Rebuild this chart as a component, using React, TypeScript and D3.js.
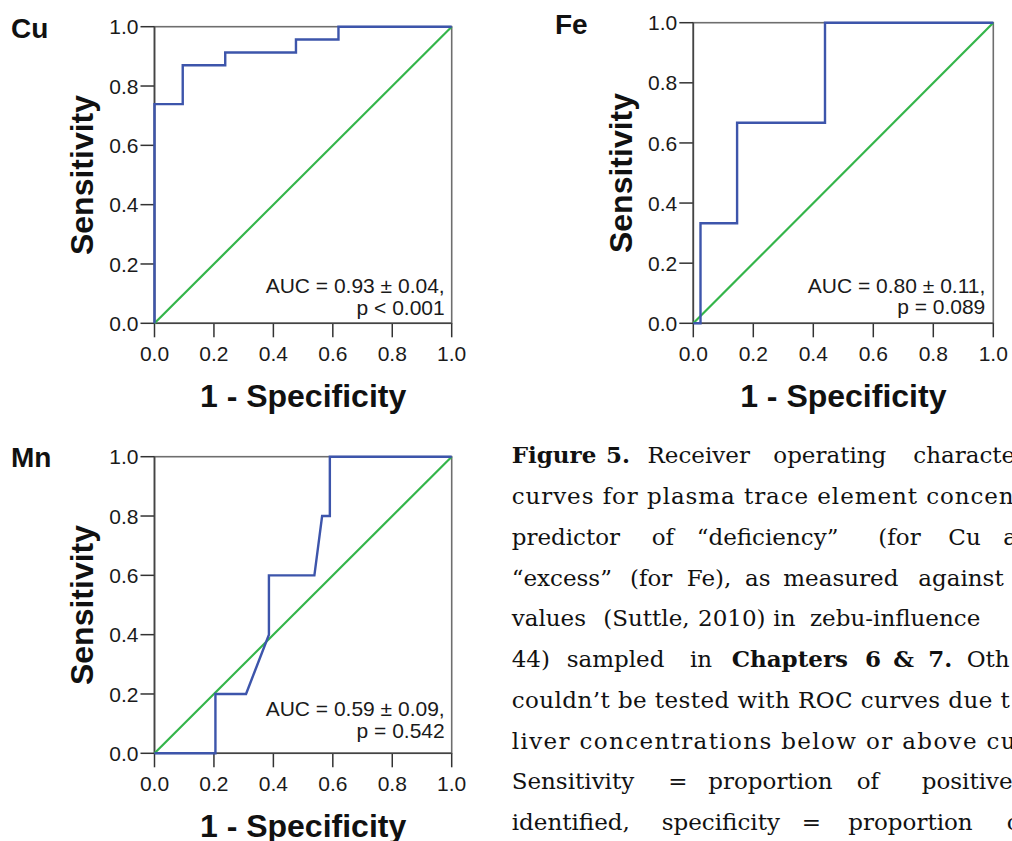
import React from "react";
import * as d3 from "d3";

// ---------- data ----------
const cuFpr = [0, 0, 0.095, 0.095, 0.238, 0.238, 0.476, 0.476, 0.619, 0.619, 1];
const cuSens = [0, 0.739, 0.739, 0.87, 0.87, 0.913, 0.913, 0.957, 0.957, 1, 1];
const feFpr = [0, 0.024, 0.024, 0.146, 0.146, 0.439, 0.439, 1];
const feSens = [0, 0, 0.333, 0.333, 0.667, 0.667, 1, 1];
const mnFpr = [0, 0.205, 0.205, 0.308, 0.385, 0.385, 0.538, 0.564, 0.59, 0.59, 1];
const mnSens = [0, 0, 0.2, 0.2, 0.4, 0.6, 0.6, 0.8, 0.8, 1, 1];
const tickValues = [0, 0.2, 0.4, 0.6, 0.8, 1.0];
const elements = ["Cu", "Fe", "Mn"];
const aucLines = ["AUC = 0.93 ± 0.04,", "AUC = 0.80 ± 0.11,", "AUC = 0.59 ± 0.09,"];
const pLines = ["p < 0.001", "p = 0.089", "p = 0.542"];
const xLabel = "1 - Specificity";
const yLabel = "Sensitivity";

// caption: each line is a list of [word, x, bold]
const captionLines: [string, number, boolean][][] = [
  [["Figure", 511.7, true], ["5.", 606, true], ["Receiver", 647.5, false], ["operating", 773.3, false], ["characte", 913.3, false]],
  [["curves for plasma trace element concen", 511.7, false]],
  [["predictor", 511.7, false], ["of", 651.7, false], ["“deficiency”", 696.7, false], ["(for", 878.3, false], ["Cu", 948.3, false], ["a", 1003.3, false]],
  [["“excess”", 511.7, false], ["(for", 630, false], ["Fe),", 686.7, false], ["as", 745, false], ["measured", 783.3, false], ["against", 918.3, false]],
  [["values", 511.7, false], ["(Suttle,", 603.3, false], ["2010)", 698, false], ["in", 773.3, false], ["zebu-influence", 810, false]],
  [["44)", 511.7, false], ["sampled", 566.7, false], ["in", 690, false], ["Chapters", 731.7, true], ["6", 865, true], ["&", 893.3, true], ["7.", 928.3, true], ["Oth", 966.7, false]],
  [["couldn’t be tested with ROC curves due t", 511.7, false]],
  [["liver concentrations below or above cu", 511.7, false]],
  [["Sensitivity", 511.7, false], ["=", 668.3, false], ["proportion", 708.3, false], ["of", 856.7, false], ["positive", 921.7, false]],
  [["identified,", 511.7, false], ["specificity", 661.7, false], ["=", 801.7, false], ["proportion", 848.3, false], ["o", 1006.7, false]],
];
const fullLineLengths: Record<number, number> = { 1: 502, 6: 498, 7: 504 };

// ---------- layout ----------
const panels = [
  { name: elements[0], fpr: cuFpr, sens: cuSens, auc: aucLines[0], p: pLines[0], left: 154.5, right: 451.7, top: 26.7, bottom: 323.3, nameX: 11, nameY: 38, aucDy: -30, pDy: -8, aucDx: -7, yLabX: 93 },
  { name: elements[1], fpr: feFpr, sens: feSens, auc: aucLines[1], p: pLines[1], left: 693.3, right: 993.3, top: 22.7, bottom: 323.3, nameX: 555, nameY: 34, aucDy: -30, pDy: -9, aucDx: -8, yLabX: 632 },
  { name: elements[2], fpr: mnFpr, sens: mnSens, auc: aucLines[2], p: pLines[2], left: 154.5, right: 451.7, top: 456.7, bottom: 753.3, nameX: 11, nameY: 467, aucDy: -37, pDy: -15, aucDx: -7, yLabX: 93 },
];

const BLUE = "#3d55ab";
const GREEN = "#34b54a";
const SANS = "'Liberation Sans', Arial, sans-serif";
const SERIF = "'DejaVu Serif', serif";

function Panel({ cfg }: { cfg: (typeof panels)[number] }) {
  const x = d3.scaleLinear().domain([0, 1]).range([cfg.left, cfg.right]);
  const y = d3.scaleLinear().domain([0, 1]).range([cfg.bottom, cfg.top]);
  const pts: [number, number][] = cfg.fpr.map((f, i) => [f, cfg.sens[i]]);
  const line = d3
    .line<[number, number]>()
    .x((d) => x(d[0]))
    .y((d) => y(d[1]));
  const diag = line([
    [0, 0],
    [1, 1],
  ]);
  const cx = (cfg.left + cfg.right) / 2;
  const cy = (cfg.top + cfg.bottom) / 2;
  return (
    <g>
      <text x={cfg.nameX} y={cfg.nameY} fontFamily={SANS} fontWeight="bold" fontSize={28} fill="#111">
        {cfg.name}
      </text>
      {/* frame */}
      <rect x={cfg.left} y={cfg.top} width={cfg.right - cfg.left} height={cfg.bottom - cfg.top} fill="none" stroke="#6e6e6e" strokeWidth={1.6} />
      {/* ticks */}
      {tickValues.map((t) => (
        <g key={"y" + t}>
          <line x1={cfg.left - 14} x2={cfg.left} y1={y(t)} y2={y(t)} stroke="#333" strokeWidth={1.5} />
          <text x={cfg.left - 16} y={y(t)} dy="0.36em" textAnchor="end" fontFamily={SANS} fontSize={21} fill="#1a1a1a">
            {d3.format(".1f")(t)}
          </text>
        </g>
      ))}
      {tickValues.map((t) => (
        <g key={"x" + t}>
          <line x1={x(t)} x2={x(t)} y1={cfg.bottom} y2={cfg.bottom + 14} stroke="#333" strokeWidth={1.5} />
          <text x={x(t)} y={cfg.bottom + 38} textAnchor="middle" fontFamily={SANS} fontSize={21} fill="#1a1a1a">
            {d3.format(".1f")(t)}
          </text>
        </g>
      ))}
      <line x1={cfg.left} x2={cfg.left} y1={cfg.top} y2={cfg.bottom} stroke="#444" strokeWidth={1.6} />
      <line x1={cfg.left} x2={cfg.right} y1={cfg.bottom} y2={cfg.bottom} stroke="#444" strokeWidth={1.6} />
      {/* curves */}
      <path d={diag || ""} fill="none" stroke={GREEN} strokeWidth={2.2} />
      <path d={line(pts) || ""} fill="none" stroke={BLUE} strokeWidth={2.4} />
      {/* annotation */}
      <text x={cfg.right + cfg.aucDx} y={cfg.bottom + cfg.aucDy} textAnchor="end" fontFamily={SANS} fontSize={21} fill="#1a1a1a">
        {cfg.auc}
      </text>
      <text x={cfg.right + cfg.aucDx} y={cfg.bottom + cfg.pDy} textAnchor="end" fontFamily={SANS} fontSize={21} fill="#1a1a1a">
        {cfg.p}
      </text>
      {/* axis labels */}
      <text x={cx} y={cfg.bottom + 84} textAnchor="middle" fontFamily={SANS} fontWeight="bold" fontSize={32} fill="#111">
        {xLabel}
      </text>
      <text transform={`translate(${cfg.yLabX},${cy}) rotate(-90)`} textAnchor="middle" fontFamily={SANS} fontWeight="bold" fontSize={32} fill="#111">
        {yLabel}
      </text>
    </g>
  );
}

export default function App() {
  const lineY = d3.scaleLinear().domain([0, 9]).range([463.3, 830]);
  return (
    <svg width={1012} height={841} style={{ position: "absolute", left: 0, top: 0, background: "#fff" }}>
      <rect width={1012} height={841} fill="#fff" />
      {panels.map((p) => (
        <Panel key={p.name} cfg={p} />
      ))}
      <g fontFamily={SERIF} fontSize={23} fill="#111">
        {captionLines.map((words, i) =>
          words.map(([w, wx, b], j) => (
            <text
              key={i + "-" + j}
              x={wx}
              y={lineY(i)}
              fontWeight={b ? "bold" : "normal"}
              textLength={fullLineLengths[i]}
              lengthAdjust={fullLineLengths[i] ? "spacing" : undefined}
            >
              {w}
            </text>
          ))
        )}
      </g>
    </svg>
  );
}
